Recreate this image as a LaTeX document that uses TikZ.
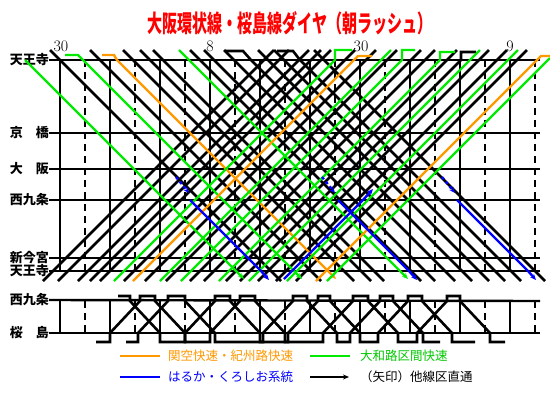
\documentclass[tikz,border=0pt]{standalone}
\usepackage{fontspec}
\usepackage{tikz}
\usetikzlibrary{arrows.meta,positioning}
\newfontfamily\jpfont{Noto Sans CJK JP}
\definecolor{trainGreen}{RGB}{0, 235, 0}
\definecolor{trainOrange}{RGB}{255, 153, 0}
\definecolor{trainBlue}{RGB}{0, 0, 255}
\definecolor{titleRed}{RGB}{255, 0, 0}

\begin{document}
\begin{tikzpicture}[x=1pt, y=-1pt, >=Stealth,
		blackLine/.style={line width=2.6pt, black},
		greenLine/.style={line width=2.4pt, trainGreen},
		orangeLine/.style={line width=2.4pt, trainOrange},
		blueLine/.style={line width=2.4pt, trainBlue},
		throughTip/.style={-{Stealth[length=6pt, width=5pt]}},
		stationLine/.style={line width=2.4pt, black},
		hourLine/.style={line width=2.4pt, black},
		tenLine/.style={line width=1.2pt, black},
		fiveLine/.style={line width=1.2pt, black, dash pattern=on 7pt off 5pt},
		stLabel/.style={anchor=east, inner sep=0pt, font=\jpfont\bfseries\fontsize{13}{13}\selectfont},
		timeLabel/.style={inner sep=0pt, font=\fontsize{16}{16}\selectfont},
		legText/.style={anchor=west, inner sep=0pt, font=\jpfont\fontsize{12.5}{13}\selectfont},
		]
		
		\useasboundingbox[fill=white] (0,0) rectangle (550,400);
		
		\node[text=titleRed, font=\jpfont\bfseries\fontsize{15}{15}\selectfont] (title) at (290,23) {\scalebox{1}[1.6]{大阪環状線・桜島線ダイヤ（朝ラッシュ）}};
		
		\node[timeLabel] (tA) at (61,46) {30};
		\node[timeLabel] (tB) at (210,46) {8};
		\node[timeLabel] (tC) at (361,46) {30};
		\node[timeLabel] (tD) at (510,46) {9};
		
		% stations of the loop
		\node[stLabel] (tenTop) at (49,60) {天王寺};
		\node[stLabel] (kyo) at (49,133) {京　橋};
		\node[stLabel] (osk) at (49,169) {大　阪};
		\node[stLabel] (nishi) at (49,200) {西九条};
		\node[stLabel] (shin) at (49,258) {新今宮};
		\node[stLabel] (tenBot) at (49,271) {天王寺};
		% stations of the branch
		\node[stLabel] (nishiB) at (49,300) {西九条};
		\node[stLabel] (sakura) at (49,333) {桜　島};
		
		\draw[fiveLine] (85,60) -- (85,271) (135,60) -- (135,271) (185,60) -- (185,271) (235,60) -- (235,271) (285,60) -- (285,271)
		(335,60) -- (335,271) (385,60) -- (385,271) (435,60) -- (435,271) (485,60) -- (485,271) (535,60) -- (535,271);
		\draw[tenLine] (110,60) -- (110,271) (160,60) -- (160,271) (260,60) -- (260,271) (310,60) -- (310,271) (410,60) -- (410,271) (460,60) -- (460,271);
		\draw[hourLine] (60,60) -- (60,271) (210,60) -- (210,271) (360,60) -- (360,271) (510,60) -- (510,271);
		
		\draw[fiveLine] (85,301) -- (85,333) (135,301) -- (135,333) (185,301) -- (185,333) (235,301) -- (235,333) (285,301) -- (285,333)
		(335,301) -- (335,333) (385,301) -- (385,333) (435,301) -- (435,333) (485,301) -- (485,333) (535,301) -- (535,333);
		\draw[tenLine] (110,301) -- (110,333) (160,301) -- (160,333) (260,301) -- (260,333) (310,301) -- (310,333) (410,301) -- (410,333) (460,301) -- (460,333);
		\draw[hourLine] (60,301) -- (60,333) (210,301) -- (210,333) (360,301) -- (360,333) (510,301) -- (510,333);
		
		\draw[stationLine] (tenTop.east) -- (540,60);
		\draw[stationLine] (kyo.east) -- (540,133);
		\draw[stationLine] (osk.east) -- (540,169);
		\draw[stationLine] (nishi.east) -- (540,200);
		\draw[stationLine] (shin.east) -- (540,258);
		\draw[stationLine] (tenBot.east) -- (540,271);
		\draw[stationLine] (nishiB.east) -- (540,301);
		\draw[stationLine] (sakura.east) -- (540,333);
		
		% loop, going down
		\draw[blackLine] (50,50) -- (281,281) (90,50) -- (321,281) (123,50) -- (354,281) (140,50) -- (371,281)
		(153,50) -- (384,281) (190,50) -- (421,281) (204,50) -- (435,281) (224,50) -- (455,281)
		(258,50) -- (489,281) (274,50) -- (505,281) (314,50) -- (545,281);
		\draw[blackLine] (225,51) -- (243,51) -- (251,60) -- (462,271) -- (472,281);
		\draw[blackLine] (277,51) -- (293,51) -- (300,60) -- (511,271) -- (521,281);
		
		% loop, going up
		\draw[blackLine] (43,281) -- (274,50) (58,281) -- (289,50) (78,281) -- (309,50) (90,281) -- (321,50)
		(100,281) -- (331,50) (124,281) -- (355,50) (145,281) -- (376,50) (166,281) -- (397,50)
		(190,281) -- (421,50) (204,281) -- (435,50) (226,281) -- (457,50) (258,281) -- (489,50)
		(276,281) -- (507,50) (296,281) -- (527,50);
		\draw[blackLine] (240,281) -- (250,271) -- (461,60) -- (461,52) -- (476,52);
		
		\draw[greenLine, throughTip] (25,60) -- (236,271) -- (244,279);
		\draw[greenLine, throughTip] (65,55) -- (78,55) -- (83,60) -- (294,271) -- (302,279);
		\draw[greenLine, throughTip] (179,50) -- (400,271) -- (408,279);
		\draw[orangeLine, throughTip] (102,55) -- (114,55) -- (117,60) -- (328,271) -- (336,279);
		
		\draw[greenLine] (114,281) -- (124,271) -- (335,60) -- (335,50) -- (352,50);
		\draw[greenLine] (160,281) -- (391,50) (249,281) -- (480,50) (287,281) -- (518,50) (327,281) -- (550,58);
		\draw[greenLine] (181,281) -- (191,271) -- (402,60) -- (402,50) -- (415,50);
		\draw[greenLine] (219,281) -- (229,271) -- (440,60) -- (440,52) -- (455,52);
		\draw[orangeLine] (133,281) -- (143,271) -- (354,60) -- (358,56) -- (372,56);
		\draw[orangeLine] (316,281) -- (326,271) -- (537,60) -- (541,56) -- (552,56);
		
		\draw[blueLine, dash pattern=on 3pt off 3pt, throughTip] (176,177) -- (189,193);
		\draw[blueLine, throughTip] (190,200) -- (261,271) -- (269,280);
		\draw[blueLine, dash pattern=on 3pt off 3pt, throughTip] (322,177) -- (335,193);
		\draw[blueLine, throughTip] (338,200) -- (409,271) -- (417,280);
		\draw[blueLine, dash pattern=on 3pt off 3pt, throughTip] (442,177) -- (455,193);
		\draw[blueLine, throughTip] (457,200) -- (528,271) -- (536,280);
		\draw[blueLine, throughTip] (284,279) -- (292,271) -- (363,200) -- (373,189);
		
		% branch line
		\draw[blackLine] (96,342) -- (110,342) -- (110,333) -- (140,301) -- (140,296) -- (155,296) -- (155,301) -- (185,333) -- (185,342) -- (210,342)
		-- (210,333) -- (240,301) -- (240,296) -- (255,296) -- (255,301) -- (285,333) -- (285,342) -- (323,342) -- (323,333) -- (353,301)
		-- (353,296) -- (368,296) -- (368,301) -- (398,333) -- (398,342) -- (417,342) -- (417,333) -- (447,301) -- (447,296) -- (460,296)
		-- (460,301) -- (490,333) -- (490,342) -- (505,342);
		\draw[blackLine] (118,296) -- (130,296) -- (130,301) -- (160,333) -- (160,342) -- (185,342) -- (185,333) -- (215,301) -- (215,296) -- (230,296)
		-- (230,301) -- (260,333) -- (260,342) -- (288,342) -- (288,333) -- (318,301) -- (318,296) -- (330,296) -- (330,301) -- (360,333)
		-- (360,342) -- (378,342) -- (378,333) -- (408,301) -- (408,296) -- (422,296) -- (422,301) -- (452,333) -- (452,342) -- (475,342);
		\draw[blackLine] (126,342) -- (138,342) -- (138,333) -- (168,301) -- (168,296) -- (185,296) -- (185,301) -- (215,333) -- (215,342) -- (263,342)
		-- (263,333) -- (293,301) -- (293,296) -- (307,296) -- (307,301) -- (337,333) -- (337,342) -- (350,342) -- (350,333) -- (380,301)
		-- (380,296) -- (393,296) -- (393,301) -- (423,333) -- (423,342) -- (440,342);
		
		% legend
		\node[legText, text=trainOrange] (lgOrange) at (168,356) {関空快速・紀州路快速};
		\node[legText, text=trainGreen!85!black] (lgGreen) at (360,356) {大和路区間快速};
		\node[legText, text=trainBlue] (lgBlue) at (168,377) {はるか・くろしお系統};
		\node[legText] (lgArrow) at (360,377) {（矢印）他線区直通};
		\draw[orangeLine] ([xshift=-48pt]lgOrange.west) -- ([xshift=-8pt]lgOrange.west);
		\draw[greenLine] ([xshift=-50pt]lgGreen.west) -- ([xshift=-10pt]lgGreen.west);
		\draw[blueLine] ([xshift=-48pt]lgBlue.west) -- ([xshift=-8pt]lgBlue.west);
		\draw[blackLine, throughTip] ([xshift=-50pt]lgArrow.west) -- ([xshift=-11pt]lgArrow.west);
		
\end{tikzpicture}
\end{document}
